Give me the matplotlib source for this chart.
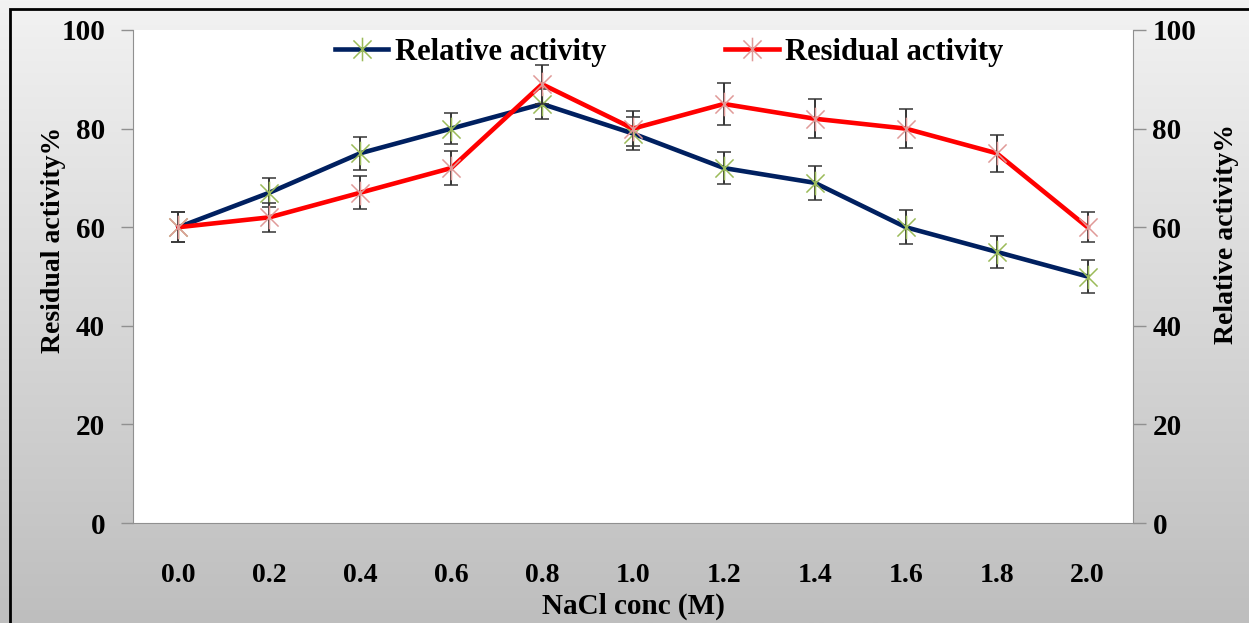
import numpy as np
import matplotlib.pyplot as plt
from matplotlib.patches import Rectangle
from matplotlib.path import Path
from matplotlib.lines import Line2D
from matplotlib.colors import LinearSegmentedColormap

plt.rcParams["font.family"] = ["Liberation Serif", "DejaVu Serif"]
plt.rcParams["font.weight"] = "bold"

# data
nacl = ["0.0", "0.2", "0.4", "0.6", "0.8", "1.0", "1.2", "1.4", "1.6", "1.8", "2.0"]
relative = [60, 67, 75, 80, 85, 79, 72, 69, 60, 55, 50]
relative_err = [3, 3, 3.3, 3.2, 3, 3.3, 3.3, 3.4, 3.4, 3.3, 3.4]
residual = [60, 62, 67, 72, 89, 80, 85, 82, 80, 75, 60]
residual_err = [3, 3, 3.4, 3.5, 4, 3.5, 4.3, 4, 4, 3.8, 3]

fig = plt.figure(figsize=(12.49, 6.23), dpi=100)

# grey gradient background + frame
bg = fig.add_axes([0, 0, 1, 1], zorder=-10)
cmap = LinearSegmentedColormap.from_list("bg", ["#f2f2f2", "#bebebe"])
grad = np.linspace(0, 1, 256).reshape(-1, 1)
bg.imshow(grad, aspect="auto", cmap=cmap, extent=[0, 1, 0, 1], origin="upper")
bg.add_patch(Rectangle((10 / 1249, -0.1), 1.1, (623 - 9) / 623 + 0.1,
                       fill=False, edgecolor="black", linewidth=2,
                       transform=bg.transAxes))
bg.set_xlim(0, 1)
bg.set_ylim(0, 1)
bg.axis("off")

# excel style star: x plus vertical bar
star = Path([(-1, -1), (1, 1), (-1, 1), (1, -1), (0, -1.3), (0, 1.3)],
            [Path.MOVETO, Path.LINETO, Path.MOVETO, Path.LINETO,
             Path.MOVETO, Path.LINETO])

ax = fig.add_axes([133 / 1249, 100 / 623, 1000 / 1249, 493 / 623])
ax.set_facecolor("white")
x = np.arange(len(nacl))

ax.errorbar(x, relative, yerr=relative_err, color="#002060", linewidth=3.3,
            marker=star, markersize=17, markeredgecolor="#9bbb59",
            markerfacecolor="none", markeredgewidth=1.1, ecolor="#353535",
            elinewidth=1.4, capsize=5, capthick=1.4, zorder=3)
ax.errorbar(x, residual, yerr=residual_err, color="#ff0000", linewidth=3.3,
            marker=star, markersize=17, markeredgecolor="#e09a98",
            markerfacecolor="none", markeredgewidth=1.1, ecolor="#353535",
            elinewidth=1.4, capsize=5, capthick=1.4, zorder=4)

ax.set_xlim(-0.5, len(nacl) - 0.5)
ax.set_ylim(0, 100)
ax.set_xticks(x)
ax.set_xticklabels(nacl)
ax.set_yticks(range(0, 101, 20))
ax.tick_params(axis="x", length=0, pad=29, labelsize=20)
ax.tick_params(axis="y", length=9, width=1, color="#909090", pad=11,
               labelsize=21)
for side in ["left", "bottom"]:
    ax.spines[side].set_color("#909090")
ax.spines["top"].set_visible(False)
ax.spines["right"].set_visible(False)
ax.set_xlabel("NaCl conc (M)", fontsize=21, fontweight="bold", labelpad=3)
ax.set_ylabel("Residual activity%", fontsize=20, fontweight="bold", labelpad=-3)
ax.yaxis.label.set_y(0.575)

ax2 = ax.twinx()
ax2.set_ylim(0, 100)
ax2.set_yticks(range(0, 101, 20))
ax2.tick_params(axis="y", length=9, width=1, color="#909090", pad=5,
                labelsize=21)
ax2.spines["right"].set_color("#909090")
for side in ["left", "top", "bottom"]:
    ax2.spines[side].set_visible(False)
ax2.set_ylabel("Relative activity%", fontsize=20, fontweight="bold", labelpad=13)
ax2.yaxis.label.set_y(0.587)

handles = [
    Line2D([], [], color="#002060", linewidth=3.3, marker=star, markersize=17,
           markeredgecolor="#9bbb59", markerfacecolor="none",
           markeredgewidth=1.1),
    Line2D([], [], color="#ff0000", linewidth=3.3, marker=star, markersize=17,
           markeredgecolor="#e09a98", markerfacecolor="none",
           markeredgewidth=1.1),
]
leg = ax.legend(handles, ["Relative activity", "Residual activity"],
                loc="upper center", bbox_to_anchor=(0.536, 1.04), ncol=2,
                frameon=False, fontsize=22, handlelength=1.75,
                columnspacing=3.9, handletextpad=0.2, numpoints=1)
for t in leg.get_texts():
    t.set_fontweight("bold")

fig.savefig("out.png", dpi=100)
